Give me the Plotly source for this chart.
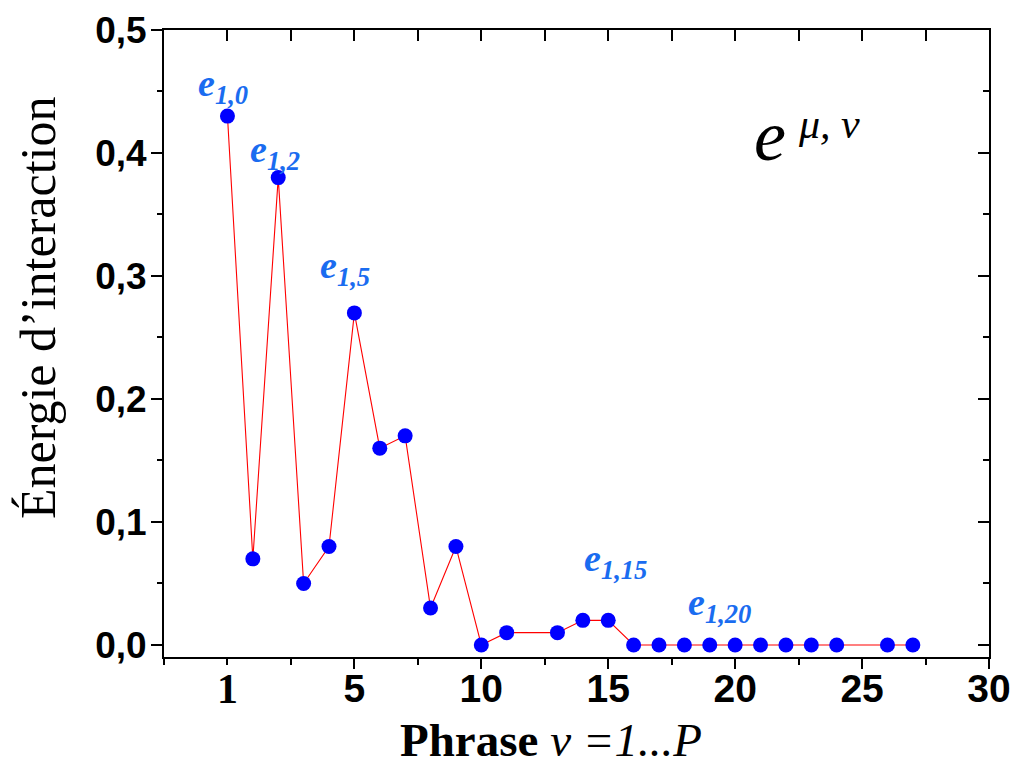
import plotly.graph_objects as go

# Data
phrase_idx = [0, 1, 2, 3, 4, 5, 6, 7, 8, 9, 10, 11, 13, 14, 15, 16, 17, 18, 19, 20, 21, 22, 23, 24, 26, 27]
energy = [0.43, 0.07, 0.38, 0.05, 0.08, 0.27, 0.16, 0.17, 0.03, 0.08, 0.0, 0.01, 0.01, 0.02, 0.02,
          0.0, 0.0, 0.0, 0.0, 0.0, 0.0, 0.0, 0.0, 0.0, 0.0, 0.0]
x_tickvals = [5, 10, 15, 20, 25, 30]
x_ticktext = ["5", "10", "15", "20", "25", "30"]
y_tickvals = [0.0, 0.1, 0.2, 0.3, 0.4, 0.5]
y_ticktext = ["0,0", "0,1", "0,2", "0,3", "0,4", "0,5"]
labelled = [(0, "1,0"), (2, "1,2"), (5, "1,5"), (15, "1,15"), (20, "1,20")]
label_shifts = {0: (-4, 30), 2: (-3, 26), 5: (-9, 45), 15: (7, 59), 20: (-16, 40)}

XR = [-2.5, 30]
YR = [-0.0098, 0.5]

# page body has an 8px offset; compensate
OFF = 8
W, H = 1033 - OFF, 769 - OFF
ML, MT, MR, MB = 164 - OFF, 30 - OFF, 44, 112
PW, PH = W - ML - MR, H - MT - MB


def px(xp):
    return (xp - 164) / PW


def py(yp):
    return (657 - yp) / PH


fig = go.Figure()
fig.add_trace(go.Scatter(
    x=phrase_idx, y=energy, mode="lines+markers",
    line=dict(color="red", width=1.1),
    marker=dict(color="#0000ff", size=15, line=dict(width=0)),
    showlegend=False, hoverinfo="x+y"))
# invisible trace for mirrored axes
fig.add_trace(go.Scatter(x=[None], y=[None], xaxis="x2", yaxis="y2", showlegend=False, hoverinfo="skip"))

xtickfont = dict(family="Liberation Sans, Arial", size=39, color="black", weight="bold")
ytickfont = dict(family="Liberation Sans, Arial", size=37, color="black", weight="bold")

fig.update_layout(
    width=W, height=H,
    margin=dict(l=ML, r=MR, t=MT, b=MB, autoexpand=False),
    paper_bgcolor="white", plot_bgcolor="white",
    xaxis=dict(range=XR, tickmode="array", tickvals=x_tickvals, ticktext=x_ticktext,
               ticks="outside", ticklen=10, tickwidth=2, tickcolor="black", automargin=False,
               showline=True, linewidth=2, linecolor="black", showgrid=False, zeroline=False,
               tickfont=xtickfont, ticklabelstandoff=-14,
               minor=dict(tickmode="linear", tick0=-2.5, dtick=2.5, ticks="outside", ticklen=6,
                          tickwidth=2, tickcolor="black", showgrid=False)),
    yaxis=dict(range=YR, tickmode="array", tickvals=y_tickvals, ticktext=y_ticktext,
               ticks="outside", ticklen=11, tickwidth=2, tickcolor="black", automargin=False,
               showline=True, linewidth=2, linecolor="black", showgrid=False, zeroline=False,
               tickfont=ytickfont, ticklabelstandoff=-3,
               minor=dict(tickmode="linear", tick0=0, dtick=0.05, ticks="outside", ticklen=5,
                          tickwidth=2, tickcolor="black", showgrid=False)),
    xaxis2=dict(range=XR, overlaying="x", side="top", anchor="y2", showticklabels=False,
                tickmode="array", tickvals=x_tickvals, ticks="inside", ticklen=11, tickwidth=2,
                tickcolor="black", showline=True, linewidth=2, linecolor="black", automargin=False,
                showgrid=False, zeroline=False,
                minor=dict(tickmode="linear", tick0=-2.5, dtick=2.5, ticks="inside", ticklen=11,
                           tickwidth=2, tickcolor="black", showgrid=False)),
    yaxis2=dict(range=YR, overlaying="y", side="right", anchor="x2", showticklabels=False,
                tickmode="array", tickvals=y_tickvals, ticks="inside", ticklen=11, tickwidth=2,
                tickcolor="black", showline=True, linewidth=2, linecolor="black", automargin=False,
                showgrid=False, zeroline=False,
                minor=dict(tickmode="linear", tick0=0, dtick=0.05, ticks="inside", ticklen=6,
                           tickwidth=2, tickcolor="black", showgrid=False)),
)

serif = "Liberation Serif, Times New Roman"

# "1" label at first phrase position
fig.add_annotation(x=0, y=py(689), xref="x", yref="paper", xanchor="center", yanchor="middle",
                   showarrow=False, text="<b>1</b>", font=dict(family=serif, size=42, color="black"))

# point labels
lab_color = "#1a6cf0"
for xi, sub in labelled:
    yi = energy[phrase_idx.index(xi)]
    dx, dy = label_shifts[xi]
    fig.add_annotation(x=xi, y=yi, xref="x", yref="y", showarrow=False, xshift=dx, yshift=dy,
                       xanchor="center", yanchor="middle",
                       text=f"<b><i>e<sub>{sub}</sub></i></b>",
                       font=dict(family=serif, size=38, color=lab_color))

# e^{mu,nu}
fig.add_annotation(x=px(770), y=py(136), xref="paper", yref="paper", showarrow=False,
                   xanchor="center", yanchor="middle",
                   text="<i>e</i>", font=dict(family=serif, size=72, color="black"))
fig.add_annotation(x=px(829), y=py(124), xref="paper", yref="paper", showarrow=False,
                   xanchor="center", yanchor="middle",
                   text="<i>μ, ν</i>", font=dict(family=serif, size=42, color="black"))

# axis titles
fig.add_annotation(x=px(38), y=py(308), xref="paper", yref="paper", showarrow=False,
                   xanchor="center", yanchor="middle",
                   textangle=-90, text="Énergie d’interaction",
                   font=dict(family=serif, size=50, color="black"))
fig.add_annotation(x=px(551), y=py(740), xref="paper", yref="paper", showarrow=False,
                   xanchor="center", yanchor="middle",
                   text="<b>Phrase</b> <i>ν =1...P</i>",
                   font=dict(family=serif, size=47, color="black"))

fig.write_html("out.html")
